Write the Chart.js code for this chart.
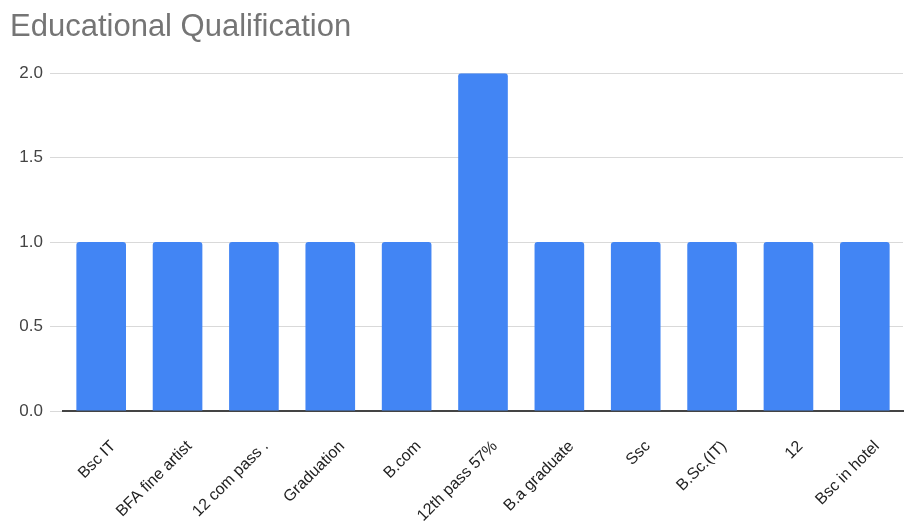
<!DOCTYPE html>
<html>
<head>
<meta charset="utf-8">
<script src="https://cdn.jsdelivr.net/npm/chart.js@4/dist/chart.umd.min.js"></script>
<style>
  html, body { margin: 0; padding: 0; background: #fff; }
  #wrap { width: 904px; height: 524px; position: relative; }
</style>
</head>
<body>
<div id="wrap"><canvas id="qualChart"></canvas></div>
<script>
const categories = ['Bsc IT', 'BFA fine artist', '12 com pass .', 'Graduation', 'B.com',
  '12th pass 57%', 'B.a graduate', 'Ssc', 'B.Sc.(IT)', '12', 'Bsc in hotel'];
const counts = [1, 1, 1, 1, 1, 2, 1, 1, 1, 1, 1];
const yTicks = [0, 0.5, 1, 1.5, 2];

const ctx = document.getElementById('qualChart').getContext('2d');
new Chart(ctx, {
  type: 'bar',
  data: {
    labels: categories,
    datasets: [{
      data: counts,
      backgroundColor: '#4285F4',
      borderRadius: { topLeft: 3, topRight: 3 },
      borderSkipped: 'bottom',
      barPercentage: 0.65,
      categoryPercentage: 1
    }]
  },
  options: {
    responsive: true,
    maintainAspectRatio: false,
    animation: false,
    layout: { padding: { left: 10, right: 1, top: 0, bottom: 0 } },
    plugins: {
      legend: { display: false },
      tooltip: { enabled: false },
      title: {
        display: true,
        text: 'Educational Qualification',
        align: 'start',
        color: '#757575',
        font: { family: 'Liberation Sans, Arial, sans-serif', size: 31, weight: 'normal' },
        padding: { top: 9, bottom: 27 }
      }
    },
    scales: {
      x: {
        grid: { display: false },
        border: { color: '#444', width: 2 },
        ticks: {
          color: '#222',
          padding: 18,
          labelOffset: 12,
          font: { family: 'Liberation Sans, Arial, sans-serif', size: 16 },
          minRotation: 45,
          maxRotation: 45,
          autoSkip: false
        },
        afterFit: s => { s.height = 113; }
      },
      y: {
        min: 0,
        max: 2,
        afterBuildTicks: s => { s.ticks = yTicks.map(v => ({ value: v })); },
        grid: { color: '#d9d9d9', tickLength: 13, tickColor: '#d9d9d9' },
        border: { display: false },
        ticks: {
          color: '#444',
          padding: 7,
          font: { family: 'Liberation Sans, Arial, sans-serif', size: 17 },
          callback: v => Number(v).toFixed(1)
        },
        afterFit: s => { s.width = 53; }
      }
    }
  }
});
</script>
</body>
</html>
